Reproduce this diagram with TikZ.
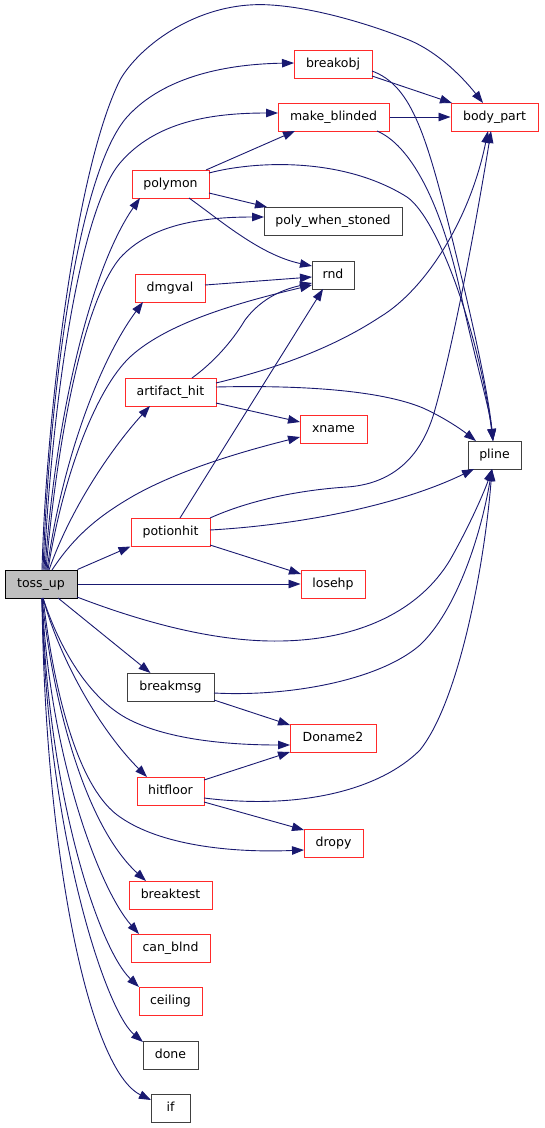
\documentclass[tikz,border=0pt]{standalone}
\usepackage{fontspec}
\setmainfont{DejaVu Sans}
\usetikzlibrary{arrows.meta,calc}
\definecolor{edgec}{HTML}{191970}
\definecolor{nred}{HTML}{FF2A2A}
\definecolor{nblk}{HTML}{404040}
\definecolor{nfill}{HTML}{BFBFBF}
\begin{document}
\begin{tikzpicture}[x=1pt,y=-1pt,
  nbox/.style={draw, rectangle, line width=1pt, minimum height=28pt, inner sep=0pt,
    font=\fontsize{12.5}{15}\selectfont, text height=8pt, text depth=1.2pt},
  rbox/.style={nbox, draw=nred},
  kbox/.style={nbox, draw=nblk},
  cur/.style={nbox, draw=black, fill=nfill},
  e/.style={draw=edgec, line width=0.9pt, -{Triangle[length=12pt,width=8.5pt]}}
]
\useasboundingbox (0,0) rectangle (544,1128);

% nodes
\node[cur,  minimum width=72pt]  (toss_up)  at (41,584)    {toss\_up};
\node[rbox, minimum width=78pt]  (breakobj) at (333,64)    {breakobj};
\node[rbox, minimum width=111pt] (make_blinded) at (333.5,117) {make\_blinded};
\node[rbox, minimum width=87pt]  (body_part) at (494.5,117) {body\_part};
\node[rbox, minimum width=77pt]  (polymon)  at (170.5,184) {polymon};
\node[kbox, minimum width=138pt] (pws)      at (333,221)   {poly\_when\_stoned};
\node[kbox, minimum width=42pt]  (rnd)      at (333,275)   {rnd};
\node[rbox, minimum width=70pt]  (dmgval)   at (170,288)   {dmgval};
\node[rbox, minimum width=91pt]  (artifact_hit) at (170.5,392) {artifact\_hit};
\node[rbox, minimum width=67pt]  (xname)    at (333.5,429) {xname};
\node[kbox, minimum width=53pt]  (pline)    at (494.5,455) {pline};
\node[rbox, minimum width=79pt]  (potionhit) at (170.5,532) {potionhit};
\node[rbox, minimum width=64pt]  (losehp)   at (333,584)   {losehp};
\node[kbox, minimum width=87pt]  (breakmsg) at (170.5,687) {breakmsg};
\node[rbox, minimum width=86pt]  (Doname2)  at (333,738)   {Doname2};
\node[rbox, minimum width=67pt]  (hitfloor) at (170.5,791) {hitfloor};
\node[rbox, minimum width=59pt]  (dropy)    at (333.5,843) {dropy};
\node[rbox, minimum width=83pt]  (breaktest) at (170.5,895) {breaktest};
\node[rbox, minimum width=79pt]  (can_blnd) at (170.5,948) {can\_blnd};
\node[rbox, minimum width=63pt]  (ceiling)  at (170.5,1001) {ceiling};
\node[kbox, minimum width=55pt]  (done)     at (170.5,1055) {done};
\node[kbox, minimum width=39pt]  (if)       at (170.5,1108) {if};

% edges from toss_up
\draw[e] ($(toss_up.center)+(1,-14)$) .. controls (46,420) and (75,170) .. (120,80)
  .. controls (140,45) and (200,0) .. (271,5)
  .. controls (320,8) and (380,28) .. (409,40)
  .. controls (440,53) and (465,80) .. ($(body_part.center)+(-11.5,-14)$);
\draw[e] ($(toss_up.center)+(2,-14)$) .. controls (50,380) and (80,170) .. (127,117)
  .. controls (165,75) and (230,64) .. ($(breakobj.center)+(-39,-1)$);
\draw[e] ($(toss_up.center)+(3,-14)$) .. controls (52,400) and (80,210) .. (120,163)
  .. controls (155,122) and (210,113) .. ($(make_blinded.center)+(-55.5,-4)$);
\draw[e] ($(toss_up.center)+(4,-14)$) .. controls (55,420) and (90,270) .. ($(polymon.center)+(-30.5,14)$);
\draw[e] ($(toss_up.center)+(5,-14)$) .. controls (58,430) and (85,300) .. (120,258)
  .. controls (150,225) and (200,217) .. ($(pws.center)+(-69,-4)$);
\draw[e] ($(toss_up.center)+(6,-14)$) .. controls (62,460) and (100,360) .. ($(dmgval.center)+(-27,14)$);
\draw[e] ($(toss_up.center)+(7,-14)$) .. controls (62,480) and (95,390) .. (130,357)
  .. controls (170,320) and (250,300) .. ($(rnd.center)+(-21,10)$);
\draw[e] ($(toss_up.center)+(8,-14)$) .. controls (70,510) and (110,450) .. ($(artifact_hit.center)+(-20.5,14)$);
\draw[e] ($(toss_up.center)+(11,-14)$) .. controls (75,535) and (100,515) .. (135,495)
  .. controls (180,470) and (240,452) .. ($(xname.center)+(-33.5,8)$);
\draw[e] (toss_up.north east) -- (potionhit.south west);
\draw[e] (toss_up.east) -- (losehp.west);
\draw[e] ($(toss_up.center)+(36,13)$) .. controls (150,625) and (220,642) .. (280,641)
  .. controls (360,640) and (420,610) .. (450,560)
  .. controls (470,525) and (485,490) .. ($(pline.center)+(-2.5,14)$);
\draw[e] ($(toss_up.center)+(17,14)$) -- ($(breakmsg.center)+(-20,-14)$);
\draw[e] ($(toss_up.center)+(2,14)$) .. controls (60,650) and (90,700) .. (130,720)
  .. controls (170,740) and (230,745) .. ($(Doname2.center)+(-43,7)$);
\draw[e] ($(toss_up.center)+(2,14)$) .. controls (60,660) and (100,730) .. ($(hitfloor.center)+(-23.5,-14)$);
\draw[e] ($(toss_up.center)+(2,14)$) .. controls (55,700) and (80,790) .. (120,817)
  .. controls (160,845) and (230,853) .. ($(dropy.center)+(-29.5,7)$);
\draw[e] ($(toss_up.center)+(1,14)$) .. controls (55,720) and (90,830) .. ($(breaktest.center)+(-24.5,-14)$);
\draw[e] ($(toss_up.center)+(1,14)$) .. controls (50,760) and (100,890) .. ($(can_blnd.center)+(-31.5,-14)$);
\draw[e] ($(toss_up.center)+(1,14)$) .. controls (48,800) and (100,950) .. ($(ceiling.center)+(-31.5,-14)$);
\draw[e] ($(toss_up.center)+(1,14)$) .. controls (46,830) and (105,1010) .. ($(done.center)+(-27.5,-13)$);
\draw[e] ($(toss_up.center)+(1,14)$) .. controls (45,860) and (90,1070) .. ($(if.center)+(-19.5,-8)$);

% other edges
\draw[e] ($(breakobj.center)+(39,12)$) -- ($(body_part.center)+(-42.5,-14)$);
\draw[e] ($(breakobj.center)+(39,7)$) .. controls (410,85) and (425,130) .. (450,230)
  .. controls (470,310) and (488,390) .. ($(pline.center)+(-1.5,-14)$);
\draw[e] (make_blinded.east) -- (body_part.west);
\draw[e] ($(make_blinded.center)+(43.5,14)$) .. controls (410,145) and (440,200) .. (460,290)
  .. controls (475,360) and (490,410) .. ($(pline.center)+(-1.5,-14)$);
\draw[e] ($(polymon.center)+(35.5,-14)$) -- ($(make_blinded.center)+(-38.5,14)$);
\draw[e] ($(polymon.center)+(38.5,-11)$) .. controls (250,162) and (340,155) .. (407,197)
  .. controls (440,220) and (480,340) .. ($(pline.center)+(-1.5,-14)$);
\draw[e] ($(polymon.center)+(38.5,9)$) -- ($(pws.center)+(-66,-14)$);
\draw[e] ($(polymon.center)+(18.5,14)$) .. controls (220,220) and (260,255) .. ($(rnd.center)+(-21,-9)$);
\draw[e] ($(dmgval.center)+(35,-3)$) -- ($(rnd.center)+(-21,2)$);
\draw[e] ($(artifact_hit.center)+(21.5,-14)$) .. controls (210,365) and (230,345) .. (245,320)
  .. controls (260,300) and (280,290) .. ($(rnd.center)+(-21,8)$);
\draw[e] ($(artifact_hit.center)+(45.5,-9)$) .. controls (270,370) and (330,350) .. (380,317)
  .. controls (425,290) and (470,220) .. ($(body_part.center)+(-6.5,14)$);
\draw[e] ($(artifact_hit.center)+(45.5,-5)$) .. controls (300,385) and (380,390) .. (423,408)
  .. controls (445,418) and (462,430) .. ($(pline.center)+(-18.5,-14)$);
\draw[e] ($(artifact_hit.center)+(45.5,11)$) -- ($(xname.center)+(-33.5,-7)$);
\draw[e] ($(potionhit.center)+(9.5,-14)$) -- ($(rnd.center)+(-10,14)$);
\draw[e] ($(potionhit.center)+(39.5,-14)$) .. controls (250,500) and (300,490) .. (347,487)
  .. controls (390,484) and (420,460) .. (434,413)
  .. controls (455,340) and (480,200) .. ($(body_part.center)+(-3.5,14)$);
\draw[e] ($(potionhit.center)+(39.5,-2)$) .. controls (300,525) and (400,505) .. ($(pline.center)+(-20.5,14)$);
\draw[e] ($(potionhit.center)+(39.5,13)$) -- ($(losehp.center)+(-32,-10)$);
\draw[e] ($(breakmsg.center)+(43.5,6)$) .. controls (290,697) and (380,680) .. (420,645)
  .. controls (455,612) and (480,540) .. ($(pline.center)+(-2.5,14)$);
\draw[e] ($(breakmsg.center)+(43.5,13)$) -- ($(Doname2.center)+(-43,-13)$);
\draw[e] ($(hitfloor.center)+(33.5,-11)$) -- ($(Doname2.center)+(-43,14)$);
\draw[e] ($(hitfloor.center)+(33.5,7)$) .. controls (300,810) and (380,790) .. (420,750)
  .. controls (460,700) and (485,560) .. ($(pline.center)+(-2.5,14)$);
\draw[e] ($(hitfloor.center)+(33.5,11)$) -- ($(dropy.center)+(-29.5,-13)$);
\end{tikzpicture}
\end{document}
